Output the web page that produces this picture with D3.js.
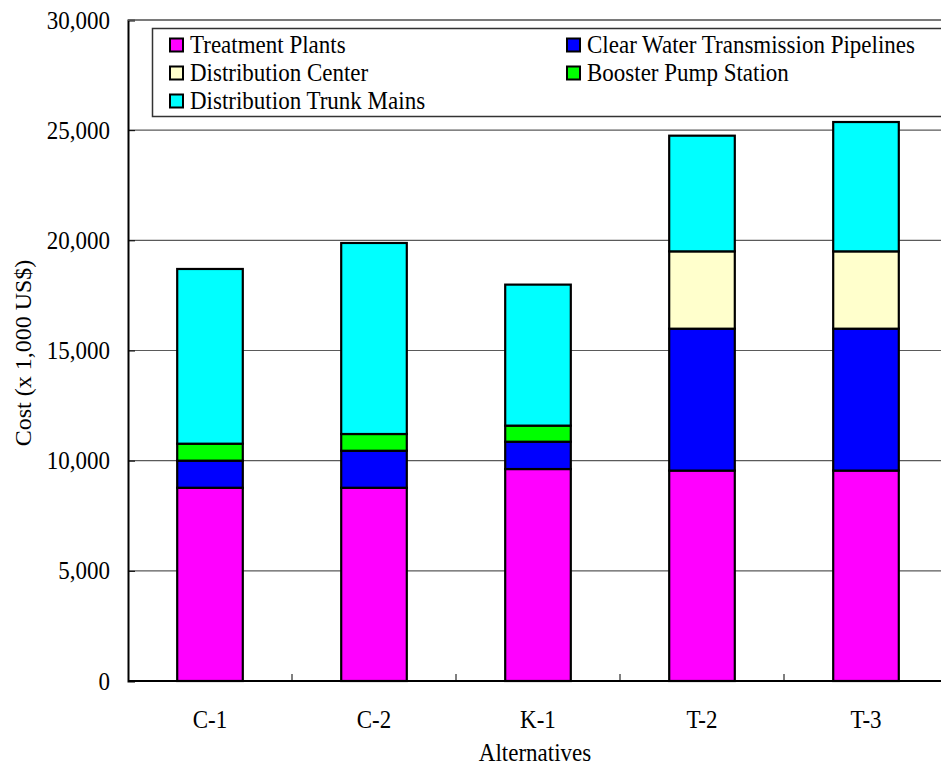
<!DOCTYPE html>
<html>
<head>
<meta charset="utf-8">
<script src="https://cdn.jsdelivr.net/npm/d3@7"></script>
<style>
  html, body { margin: 0; padding: 0; background: #fff; }
  svg { display: block; font-family: "Liberation Serif", "Times New Roman", serif; }
</style>
</head>
<body>
<svg id="chart" width="941" height="767"></svg>
<script>
// Cost breakdown per alternative (x 1,000 US$)
const categories = ["C-1", "C-2", "K-1", "T-2", "T-3"];
const seriesNames = [
  "Treatment Plants",
  "Clear Water Transmission Pipelines",
  "Distribution Center",
  "Booster Pump Station",
  "Distribution Trunk Mains"
];
const treatmentPlants   = [8770, 8770, 9620, 9550, 9550];
const clearWater        = [1230, 1680, 1240, 6440, 6440];
const distributionCtr   = [0, 0, 0, 3510, 3510];
const boosterPump       = [770, 760, 730, 0, 0];
const trunkMains        = [7930, 8670, 6400, 5250, 5870];
const yTicks = [0, 5000, 10000, 15000, 20000, 25000, 30000];
const colors = ["#ff00ff", "#0000ff", "#ffffcc", "#00ff00", "#00ffff"];

const seriesValues = [treatmentPlants, clearWater, distributionCtr, boosterPump, trunkMains];
const rows = categories.map((c, i) => {
  const r = { cat: c };
  seriesNames.forEach((s, k) => r[s] = seriesValues[k][i]);
  return r;
});

// horizontally narrowed serif lettering
const FS = 25, SX = 0.92;
function squeeze(sel) {
  sel.each(function () {
    const t = d3.select(this);
    const x0 = +t.attr("x") || 0;
    t.attr("x", x0 / SX).attr("transform", `scale(${SX},1)`)
     .attr("font-size", FS).attr("fill", "#000")
     .attr("font-family", "Liberation Serif, Times New Roman, serif");
  });
}

const svg = d3.select("#chart");
const plotLeft = 128, plotRight = 948, plotTop = 20, plotBottom = 681;

const x = d3.scaleBand().domain(categories).range([plotLeft, plotRight]).padding(0);
const y = d3.scaleLinear().domain([0, 30000]).range([plotBottom, plotTop]);

// gridlines
svg.append("g")
  .selectAll("line")
  .data(yTicks.filter(t => t > 0))
  .join("line")
  .attr("x1", plotLeft).attr("x2", plotRight)
  .attr("y1", d => y(d)).attr("y2", d => y(d))
  .attr("stroke", "#5a5a5a").attr("stroke-width", 1.2);

// stacked bars
const stacked = d3.stack().keys(seriesNames)(rows);
const barW = x.bandwidth() * 0.4;
const gBars = svg.append("g");
stacked.forEach((layer, k) => {
  gBars.append("g")
    .attr("fill", colors[k])
    .selectAll("rect")
    .data(layer.filter(d => d[1] - d[0] > 0))
    .join("rect")
    .attr("x", d => x(d.data.cat) + (x.bandwidth() - barW) / 2)
    .attr("width", barW)
    .attr("y", d => y(d[1]))
    .attr("height", d => y(d[0]) - y(d[1]))
    .attr("stroke", "#000")
    .attr("stroke-width", 2.2);
});

// y axis
const yAxis = d3.axisLeft(y).tickValues(yTicks).tickSize(-7).tickPadding(18)
  .tickFormat(d3.format(","));
const gy = svg.append("g").attr("transform", `translate(${plotLeft},0)`).call(yAxis);
gy.select(".domain").attr("stroke", "#000").attr("stroke-width", 2);
gy.selectAll(".tick line").attr("stroke", "#000");
gy.selectAll(".tick text").call(squeeze);

// x axis: ticks between categories, pointing inward
const gx = svg.append("g").attr("transform", `translate(0,${plotBottom})`);
gx.append("line").attr("x1", plotLeft).attr("x2", plotRight).attr("stroke", "#000").attr("stroke-width", 2.2);
gx.selectAll("line.sep")
  .data(categories.slice(1))
  .join("line")
  .attr("class", "sep")
  .attr("x1", d => x(d)).attr("x2", d => x(d))
  .attr("y1", 0).attr("y2", -7)
  .attr("stroke", "#000");
gx.selectAll("text")
  .data(categories)
  .join("text")
  .attr("x", d => x(d) + x.bandwidth() / 2)
  .attr("y", 47)
  .attr("text-anchor", "middle")
  .text(d => d)
  .call(squeeze);

// frame top
svg.append("line").attr("x1", plotLeft).attr("x2", plotRight).attr("y1", plotTop).attr("y2", plotTop)
  .attr("stroke", "#6a6a6a").attr("stroke-width", 1.5);

// axis titles
svg.append("text")
  .attr("x", (plotLeft + plotRight) / 2 - 3).attr("y", 761)
  .attr("text-anchor", "middle")
  .text("Alternatives")
  .call(squeeze);
svg.append("text")
  .attr("transform", "translate(31,353) rotate(-90)")
  .attr("text-anchor", "middle").attr("font-size", 24)
  .text("Cost (x 1,000 US$)");

// legend
const lg = svg.append("g");
lg.append("rect").attr("x", 152.5).attr("y", 28.5).attr("width", 820).attr("height", 88)
  .attr("fill", "#fff").attr("stroke", "#333").attr("stroke-width", 1.5);
const legendPos = [
  { sx: 170, ty: 45 }, { sx: 567, ty: 45 },
  { sx: 170, ty: 73 }, { sx: 567, ty: 73 },
  { sx: 170, ty: 101 }
];
seriesNames.forEach((s, k) => {
  const p = legendPos[k];
  lg.append("rect").attr("x", p.sx).attr("y", p.ty - 6.5).attr("width", 13).attr("height", 13)
    .attr("fill", colors[k]).attr("stroke", "#000").attr("stroke-width", 2);
  lg.append("text").attr("x", p.sx + 20).attr("y", p.ty + 8.5).text(s).call(squeeze);
});
</script>
</body>
</html>
